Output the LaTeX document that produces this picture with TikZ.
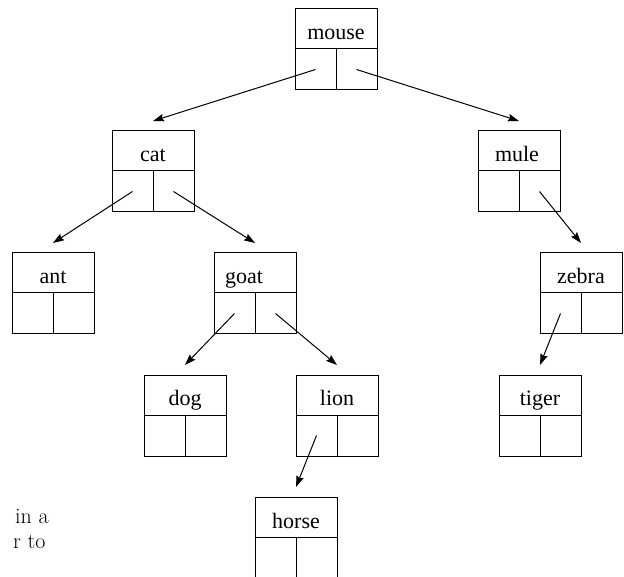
\documentclass[tikz,border=0pt]{standalone}
\usepackage{fontspec}
\newfontfamily\figfont{Liberation Serif}
\usetikzlibrary{arrows.meta}
\begin{document}
\begin{tikzpicture}[x=1pt,y=-1pt,
  head/.style={draw,line width=1pt,minimum width=82pt,minimum height=40pt,inner sep=0pt,
    text height=22pt,text depth=0pt,font=\figfont\fontsize{22}{26}\selectfont},
  cell/.style={draw,line width=1pt,minimum width=41pt,minimum height=41pt,inner sep=0pt},
  link/.style={line width=1pt,-{Stealth[length=11pt,width=7.5pt,inset=1.5pt]}},
  page/.style={anchor=base west,inner sep=0pt,font=\fontsize{22}{26}\selectfont}]
\useasboundingbox (0,0) rectangle (624,577);
\clip (0,0) rectangle (624,577);
% the boxes: name/left/top/shift of the word
\foreach \name/\x/\y/\dx in {mouse/295/9/0, cat/112/131/0, mule/478/131/-2, ant/12/253/0,
    goat/214/253/-11, zebra/540/253/0, dog/144/375/0, lion/296/375/0, tiger/499/375/0,
    horse/255/497/0} {
  \draw[line width=1pt] (\x,\y) rectangle (\x+82,\y+40);
  \node[head,draw=none] (\name) at (\x+41+\dx,\y+20) {\name};
  \node[cell] (\name-l) at (\x+20.5,\y+60.5) {};
  \node[cell] (\name-r) at (\x+61.5,\y+60.5) {};
  \coordinate (\name-in) at (\x+41,\y-10);
}
% pointers
\draw[link] (mouse-l.center) -- (cat-in);
\draw[link] (mouse-r.center) -- (mule-in);
\draw[link] (cat-l.center) -- (ant-in);
\draw[link] (cat-r.center) -- (goat-in);
\draw[link] (mule-r.center) -- (zebra-in);
\draw[link] (goat-l.center) -- (dog-in);
\draw[link] (goat-r.center) -- (lion-in);
\draw[link] (zebra-l.center) -- (tiger-in);
\draw[link] (lion-l.center) -- (horse-in);
% text of the page round the figure
\node[page] (line1) at (15,523) {in a};
\node[page] (line2) at (13,548) {r to};
\end{tikzpicture}
\end{document}
